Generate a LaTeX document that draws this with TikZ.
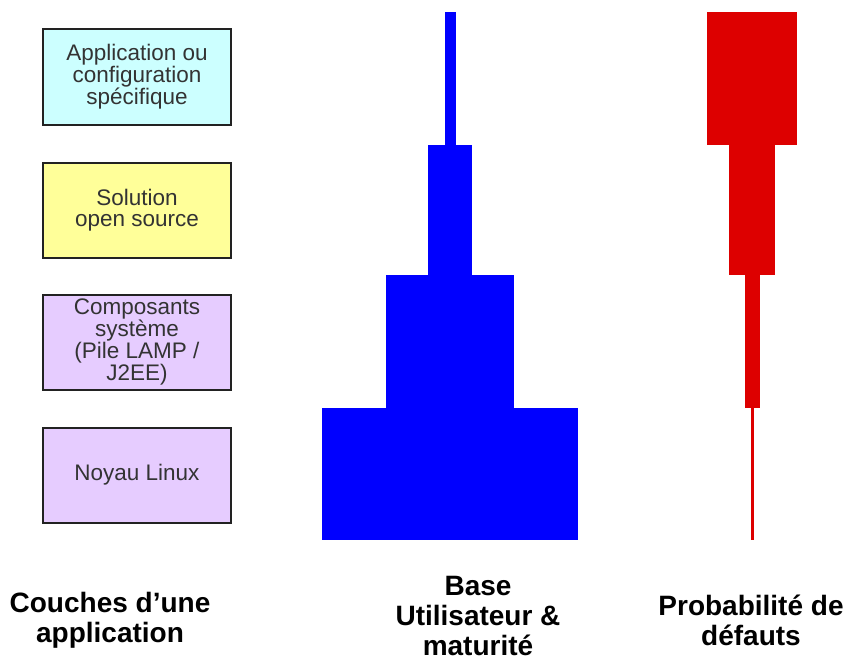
\documentclass[tikz,border=0pt]{standalone}
\usepackage{fontspec}
\setmainfont{Liberation Sans}
\definecolor{cyanfill}{HTML}{CCFFFF}
\definecolor{yellowfill}{HTML}{FFFF99}
\definecolor{lavfill}{HTML}{E6CCFF}
\definecolor{barblue}{HTML}{0000FF}
\definecolor{barred}{HTML}{DD0000}
\definecolor{boxline}{HTML}{222222}
\begin{document}
\begin{tikzpicture}[x=1pt,y=-1pt,
  layerbox/.style={draw=boxline,line width=2pt,minimum width=188pt,minimum height=95pt,align=center,inner sep=1pt,font=\fontsize{22.5}{20.5}\selectfont,text=black!80},
  title/.style={align=center,inner sep=0pt,font=\fontsize{28}{30}\selectfont\bfseries},
  bluebar/.style={fill=barblue},
  redbar/.style={fill=barred}]
\useasboundingbox (0,0) rectangle (859,661);
% layer boxes
\node[layerbox,fill=cyanfill] (b1) at (137,77) {Application ou\\configuration\\spécifique};
\node[layerbox,fill=yellowfill] (b2) at (137,210) {Solution\\open source};
\node[layerbox,fill=lavfill] (b3) at (137,342) {Composants\\système\\(Pile LAMP /\\J2EE)};
\node[layerbox,fill=lavfill] (b4) at (137,475) {Noyau Linux};
% blue bars
\fill[bluebar] (445,12) rectangle (456,145);
\fill[bluebar] (428,145) rectangle (472,275);
\fill[bluebar] (386,275) rectangle (514,408);
\fill[bluebar] (322,408) rectangle (578,540);
% red bars
\fill[redbar] (707,12) rectangle (797,145);
\fill[redbar] (729,145) rectangle (775,275);
\fill[redbar] (745,275) rectangle (760,408);
\fill[redbar] (751,408) rectangle (754,540);
% titles
\node[title] (t1) at (110,620) {Couches d’une\\application};
\node[title] (t2) at (478,616) {Base\\Utilisateur \&\\maturité};
\node[title] (t3) at (751,620) {Probabilité de\\défauts};
\end{tikzpicture}
\end{document}
